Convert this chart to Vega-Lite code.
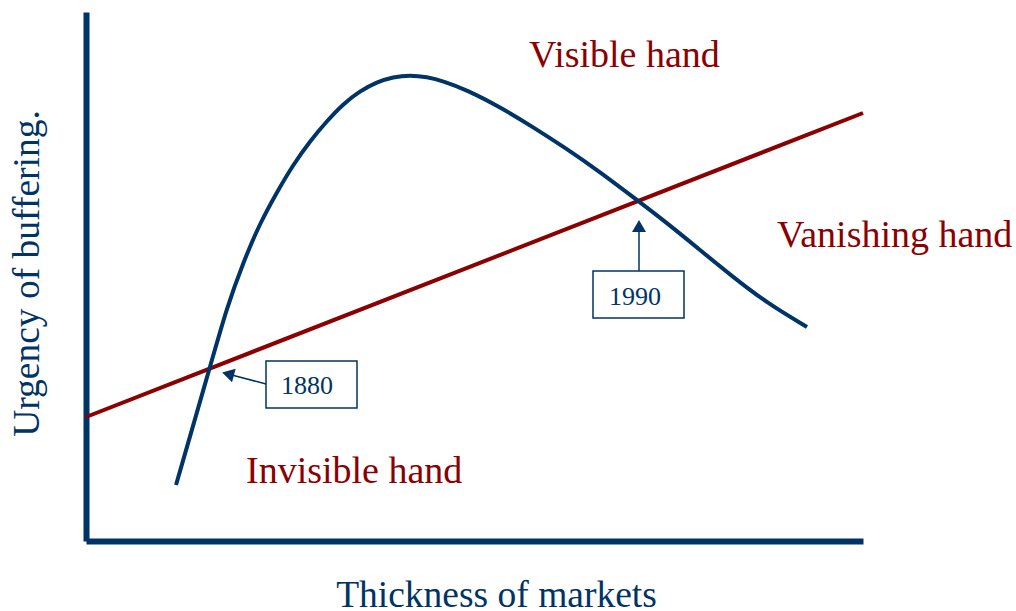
{
  "$schema": "https://vega.github.io/schema/vega-lite/v6.json",
  "width": 777,
  "height": 529,
  "autosize": "none",
  "padding": {"left": 86, "top": 12, "right": 153, "bottom": 70},
  "background": "white",
  "config": {
    "view": {"stroke": null},
    "font": "Liberation Serif",
    "axis": {
      "domain": true,
      "domainColor": "#003366",
      "domainWidth": 6,
      "ticks": false,
      "labels": false,
      "grid": false,
      "titleFont": "Liberation Serif",
      "titleFontSize": 37.5,
      "titleFontWeight": "normal",
      "titleColor": "#003366"
    },
    "axisX": {"titleX": 410, "titleY": 65, "titleAlign": "center", "titleBaseline": "alphabetic", "titleAnchor": null},
    "axisY": {"titleX": -48, "titleY": 261, "titleAngle": 270, "titleAlign": "center", "titleBaseline": "alphabetic", "titleAnchor": null}
  },
  "datasets": {
    "curve": [
      {"x": 90, "y": 56}, {"x": 124, "y": 174}, {"x": 141, "y": 234}, {"x": 157, "y": 278},
      {"x": 174, "y": 318}, {"x": 191, "y": 349}, {"x": 207, "y": 376}, {"x": 224, "y": 400},
      {"x": 241, "y": 420}, {"x": 257, "y": 437}, {"x": 274, "y": 450}, {"x": 291, "y": 459},
      {"x": 307, "y": 464}, {"x": 324, "y": 466}, {"x": 341, "y": 464}, {"x": 357, "y": 460},
      {"x": 381, "y": 451}, {"x": 414, "y": 434}, {"x": 447, "y": 414}, {"x": 481, "y": 392},
      {"x": 514, "y": 369}, {"x": 547, "y": 344}, {"x": 581, "y": 318}, {"x": 614, "y": 291},
      {"x": 647, "y": 264}, {"x": 681, "y": 238}, {"x": 721, "y": 214}
    ],
    "line": [{"x": 0, "y": 124}, {"x": 777, "y": 428}],
    "boxes": [
      {"label": "1880", "x": 180, "x2": 271, "y": 133, "y2": 180, "tx": 221, "ty": 147},
      {"label": "1990", "x": 507, "x2": 598, "y": 223, "y2": 270, "tx": 549, "ty": 236}
    ],
    "arrows": [
      {"label": "1880", "x": 180, "y": 157, "tipx": 142, "tipy": 167},
      {"label": "1990", "x": 553, "y": 270, "tipx": 553, "tipy": 315}
    ],
    "labels": [
      {"text": "Visible hand", "x": 443, "y": 474},
      {"text": "Vanishing hand", "x": 691, "y": 294},
      {"text": "Invisible hand", "x": 160, "y": 58}
    ]
  },
  "layer": [
    {
      "data": {"name": "line"},
      "mark": {"type": "line", "color": "#8B0000", "strokeWidth": 4},
      "encoding": {
        "x": {"field": "x", "type": "quantitative", "title": "Thickness of markets", "scale": {"domain": [0, 777], "nice": false, "zero": false}},
        "y": {"field": "y", "type": "quantitative", "title": "Urgency of buffering.", "scale": {"domain": [0, 529], "nice": false, "zero": false}}
      }
    },
    {
      "data": {"name": "curve"},
      "mark": {"type": "line", "color": "#003366", "strokeWidth": 4, "interpolate": "basis"},
      "encoding": {
        "x": {"field": "x", "type": "quantitative", "title": "Thickness of markets"},
        "y": {"field": "y", "type": "quantitative", "title": "Urgency of buffering."}
      }
    },
    {
      "data": {"name": "boxes"},
      "mark": {"type": "rect", "fill": "white", "fillOpacity": 0, "stroke": "#003366", "strokeWidth": 1.5},
      "encoding": {
        "x": {"field": "x", "type": "quantitative", "title": "Thickness of markets"},
        "x2": {"field": "x2"},
        "y": {"field": "y", "type": "quantitative", "title": "Urgency of buffering."},
        "y2": {"field": "y2"}
      }
    },
    {
      "data": {"name": "boxes"},
      "mark": {"type": "text", "font": "Liberation Serif", "fontSize": 26, "color": "#003366", "align": "center", "baseline": "alphabetic"},
      "encoding": {
        "x": {"field": "tx", "type": "quantitative", "title": "Thickness of markets"},
        "y": {"field": "ty", "type": "quantitative", "title": "Urgency of buffering."},
        "text": {"field": "label"}
      }
    },
    {
      "data": {"name": "arrows"},
      "mark": {"type": "rule", "color": "#003366", "strokeWidth": 1.5},
      "encoding": {
        "x": {"field": "x", "type": "quantitative", "title": "Thickness of markets"},
        "y": {"field": "y", "type": "quantitative", "title": "Urgency of buffering."},
        "x2": {"field": "tipx"},
        "y2": {"field": "tipy"}
      }
    },
    {
      "data": {"name": "arrows"},
      "transform": [{"filter": "datum.label == '1880'"}],
      "mark": {"type": "point", "shape": "triangle-up", "filled": true, "size": 196, "angle": 285, "color": "#003366", "opacity": 1},
      "encoding": {
        "x": {"field": "tipx", "type": "quantitative", "title": "Thickness of markets"},
        "y": {"field": "tipy", "type": "quantitative", "title": "Urgency of buffering."}
      }
    },
    {
      "data": {"name": "arrows"},
      "transform": [{"filter": "datum.label == '1990'"}],
      "mark": {"type": "point", "shape": "triangle-up", "filled": true, "size": 196, "angle": 0, "color": "#003366", "opacity": 1},
      "encoding": {
        "x": {"field": "tipx", "type": "quantitative", "title": "Thickness of markets"},
        "y": {"field": "tipy", "type": "quantitative", "title": "Urgency of buffering."}
      }
    },
    {
      "data": {"name": "labels"},
      "mark": {"type": "text", "font": "Liberation Serif", "fontSize": 38, "color": "#8B0000", "align": "left", "baseline": "alphabetic"},
      "encoding": {
        "x": {"field": "x", "type": "quantitative", "title": "Thickness of markets"},
        "y": {"field": "y", "type": "quantitative", "title": "Urgency of buffering."},
        "text": {"field": "text"}
      }
    }
  ]
}
